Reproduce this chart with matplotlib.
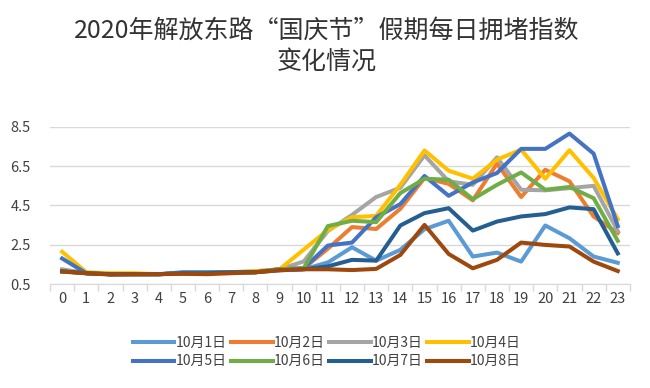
import matplotlib.pyplot as plt
import numpy as np

plt.rcParams['font.family'] = ['Noto Sans CJK SC', 'DejaVu Sans']

hours = list(range(24))
labels = ["10月1日", "10月2日", "10月3日", "10月4日",
          "10月5日", "10月6日", "10月7日", "10月8日"]
colors = ["#5B9BD5", "#ED7D31", "#A5A5A5", "#FFC000",
          "#4472C4", "#70AD47", "#255E91", "#9E480E"]

oct1 = [1.2, 1.05, 1.0, 1.0, 1.0, 1.05, 1.05, 1.1, 1.1, 1.25, 1.25, 1.6,
        2.37, 1.69, 2.24, 3.29, 3.72, 1.9, 2.1, 1.64, 3.48, 2.83, 1.9, 1.58]
oct2 = [1.15, 1.05, 1.0, 1.0, 1.0, 1.05, 1.05, 1.1, 1.1, 1.25, 1.3, 2.3,
        3.4, 3.3, 4.33, 5.9, 5.6, 4.76, 6.63, 4.93, 6.32, 5.73, 3.94, 3.1]
oct3 = [1.25, 1.05, 1.0, 1.0, 1.0, 1.05, 1.05, 1.1, 1.15, 1.25, 1.65, 3.2,
        4.02, 4.93, 5.4, 7.05, 5.73, 5.55, 6.95, 5.3, 5.27, 5.38, 5.5, 3.2]
oct4 = [2.14, 1.1, 1.05, 1.05, 1.0, 1.05, 1.05, 1.1, 1.15, 1.25, 2.25, 3.25,
        3.9, 3.97, 5.55, 7.3, 6.27, 5.86, 6.83, 7.34, 5.86, 7.31, 5.9, 3.8]
oct5 = [1.8, 1.05, 1.0, 1.0, 1.0, 1.1, 1.1, 1.1, 1.1, 1.25, 1.3, 2.46,
        2.61, 3.9, 4.57, 6.0, 4.99, 5.67, 6.15, 7.38, 7.38, 8.16, 7.14, 3.45]
oct6 = [1.15, 1.05, 1.0, 1.0, 1.0, 1.05, 1.05, 1.1, 1.1, 1.25, 1.3, 3.45,
        3.72, 3.65, 5.13, 5.86, 5.81, 4.82, 5.55, 6.18, 5.3, 5.44, 4.87, 2.7]
oct7 = [1.15, 1.05, 1.0, 1.0, 1.0, 1.05, 1.05, 1.1, 1.1, 1.2, 1.25, 1.4,
        1.73, 1.69, 3.48, 4.11, 4.36, 3.22, 3.68, 3.94, 4.06, 4.4, 4.31, 2.06]
oct8 = [1.13, 1.05, 0.98, 1.0, 1.0, 1.02, 1.0, 1.05, 1.1, 1.2, 1.25, 1.25,
        1.21, 1.27, 1.98, 3.51, 2.03, 1.3, 1.73, 2.61, 2.49, 2.41, 1.64, 1.16]
series = [oct1, oct2, oct3, oct4, oct5, oct6, oct7, oct8]

yticks = [0.5, 2.5, 4.5, 6.5, 8.5]

fig = plt.figure(figsize=(6.5, 3.88), dpi=100)
ax = fig.add_axes([0.077, 0.268, 0.892, 0.405])

lines = []
for vals, lab, col in zip(series, labels, colors):
    ln, = ax.plot(hours, vals, color=col, lw=2.9, label=lab, solid_joinstyle='round')
    lines.append(ln)

ax.set_xlim(-0.5, 23.5)
ax.set_ylim(0.5, 8.5)
ax.set_yticks(yticks)
ax.set_yticklabels([f"{v:.1f}" for v in yticks])
ax.set_xticks(hours)
ax.set_xticks(np.arange(-0.5, 24, 1), minor=True)
ax.tick_params(axis='x', which='major', length=0, pad=6, labelsize=10.5, labelcolor="#404040")
ax.tick_params(axis='x', which='minor', length=5, color="#d9d9d9", width=1)
ax.tick_params(axis='y', length=0, pad=14, labelsize=10.5, labelcolor="#404040")
ax.grid(axis='y', color="#d9d9d9", lw=1)
ax.set_axisbelow(True)
for s in ['top', 'right', 'left']:
    ax.spines[s].set_visible(False)
ax.spines['bottom'].set_color("#d9d9d9")

fig.text(0.503, 0.92, "2020年解放东路“国庆节”假期每日拥堵指数", ha='center', va='center',
         fontsize=18, color="#333333")
fig.text(0.503, 0.84, "变化情况", ha='center', va='center', fontsize=18, color="#333333")

# legend fills column by column, so reorder to read row by row
order = [0, 4, 1, 5, 2, 6, 3, 7]
fig.legend([lines[i] for i in order], [labels[i] for i in order],
           loc='center', bbox_to_anchor=(0.503, 0.092), ncol=4, frameon=False,
           fontsize=10, handlelength=3.0, handletextpad=0.1, columnspacing=0.3,
           labelspacing=0.3, labelcolor="#404040")

fig.savefig("out.png", dpi=100)
